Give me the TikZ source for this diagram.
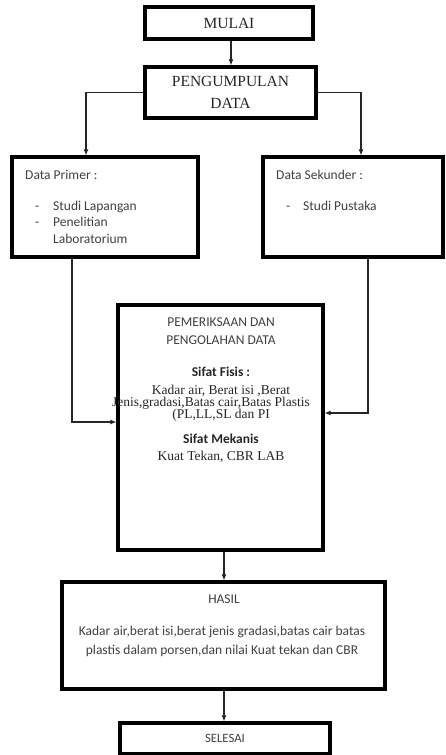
\documentclass[tikz,border=0pt]{standalone}
\usepackage{fontspec}
\setmainfont{Liberation Serif}
\newfontfamily\calib{Carlito}
\usetikzlibrary{arrows.meta}
\begin{document}
\begin{tikzpicture}[x=1pt,y=1pt,
  box/.style={draw=black, line width=3.2pt, fill=white, inner sep=0pt},
  arr/.style={draw=black!85, line width=1.1pt, -{Latex[length=6pt,width=5pt]}},
  ser/.style={font=\fontsize{15.5}{22}\selectfont, text=black!85, align=center},
  serb/.style={font=\fontsize{13.5}{12}\selectfont, text=black!85, anchor=base, inner sep=0pt},
  cal/.style={font=\calib\fontsize{13.5}{16}\selectfont, text=black!75, inner sep=0pt},
  calb/.style={font=\calib\bfseries\fontsize{13.5}{16}\selectfont, text=black!85, anchor=base, inner sep=0pt}]
\useasboundingbox (0,0) rectangle (445,-755);

% boxes
\node[box, minimum width=168, minimum height=32, ser] (mulai) at (229,-23) {MULAI};
\node[box, minimum width=171, minimum height=51, ser] (peng) at (230.5,-92.5) {PENGUMPULAN\\DATA};
\node[box, minimum width=186, minimum height=100] (primer) at (105,-207) {};
\node[box, minimum width=180, minimum height=100] (sekunder) at (353,-207) {};
\node[box, minimum width=205, minimum height=245] (central) at (220.5,-427.5) {};
\node[box, minimum width=323, minimum height=107] (hasil) at (223.5,-635.5) {};
\node[box, minimum width=210, minimum height=31, cal, font=\calib\fontsize{12.7}{14}\selectfont] (selesai) at (225,-738.5) {SELESAI};

% primer text
\node[cal, anchor=base west] (p1) at (25,-179) {Data Primer :};
\node[cal, anchor=base west] (p2) at (35,-210) {-};
\node[cal, anchor=base west] (p3) at (53,-210) {Studi Lapangan};
\node[cal, anchor=base west] (p4) at (35,-226) {-};
\node[cal, anchor=base west] (p5) at (53,-226) {Penelitian};
\node[cal, anchor=base west] (p6) at (53,-243) {Laboratorium};

% sekunder text
\node[cal, anchor=base west] (s1) at (276,-179) {Data Sekunder :};
\node[cal, anchor=base west] (s2) at (286,-210) {-};
\node[cal, anchor=base west] (s3) at (303,-210) {Studi Pustaka};

% central text
\node[cal, anchor=base] (c1) at (221,-326) {PEMERIKSAAN DAN};
\node[cal, anchor=base] (c2) at (221,-344) {PENGOLAHAN DATA};
\node[calb] (c3) at (221,-376) {Sifat Fisis :};
\node[serb] (c4) at (221,-394) {Kadar air, Berat isi ,Berat};
\node[serb] (c5) at (211,-406) {Jenis,gradasi,Batas cair,Batas Plastis};
\node[serb] (c6) at (221,-418) {(PL,LL,SL dan PI};
\node[calb] (c7) at (221,-443) {Sifat Mekanis};
\node[serb] (c8) at (221,-460) {Kuat Tekan, CBR LAB};

% hasil text
\node[cal, anchor=base] (h1) at (224,-603) {HASIL};
\node[cal, anchor=base] (h2) at (222,-635) {Kadar air,berat isi,berat jenis gradasi,batas cair batas};
\node[cal, anchor=base] (h3) at (222,-654) {plastis dalam porsen,dan nilai Kuat tekan dan CBR};

% connectors
\draw[arr] ([xshift=2pt]mulai.south) -- ([xshift=2pt]mulai.south |- peng.north);
\draw[arr] (peng.west) -| ([xshift=-19pt]primer.north);
\draw[arr] (peng.east) -| ([xshift=8pt]sekunder.north);
\draw[arr] ([xshift=-33pt]primer.south) |- ([yshift=5.5pt]central.west);
\draw[arr] ([xshift=15pt]sekunder.south) |- ([yshift=14.5pt]central.east);
\draw[arr] ([xshift=3.5pt]central.south) -- ([xshift=3.5pt]central.south |- hasil.north);
\draw[arr] ([xshift=0.5pt]hasil.south) -- ([xshift=0.5pt]hasil.south |- selesai.north);
\end{tikzpicture}
\end{document}
